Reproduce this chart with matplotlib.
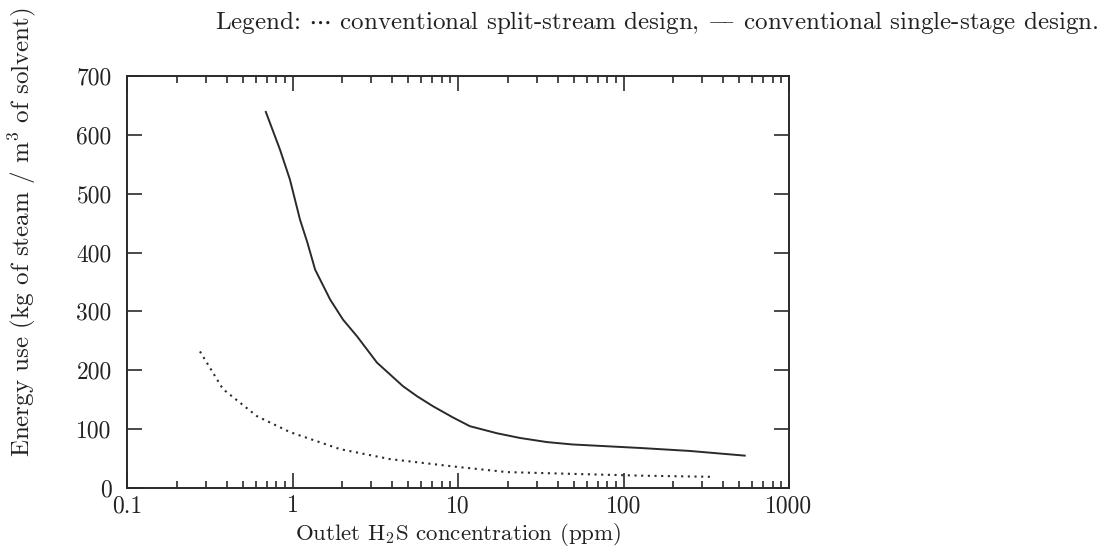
import matplotlib
matplotlib.use("Agg")
import matplotlib.pyplot as plt
from matplotlib.ticker import LogLocator, FixedLocator, NullFormatter

plt.rcParams['font.family'] = ['cmr10', 'DejaVu Serif']
plt.rcParams['mathtext.fontset'] = 'cm'
plt.rcParams['axes.formatter.use_mathtext'] = True

# Data
single_x = [0.69, 0.84, 0.965, 1.11, 1.23, 1.37, 1.69, 2.02, 2.45, 3.24, 4.65, 5.65, 7.05, 9.3, 11.8, 17.2, 23.7, 34.5, 49, 126, 250, 540]
single_y = [639, 575, 524, 456, 417, 371, 320, 286, 258, 213, 173, 156, 139, 120, 105, 93, 85, 78, 74, 68, 63, 55]

split_x = [0.276, 0.38, 0.61, 0.965, 1.94, 3.9, 9.8, 19.8, 49, 126, 340]
split_y = [232, 168, 122, 95, 66, 49, 36, 27, 24, 21, 19]

x_ticks = [0.1, 1, 10, 100, 1000]
x_tick_labels = ["0.1", "1", "10", "100", "1000"]
y_ticks = [0, 100, 200, 300, 400, 500, 600, 700]

fig = plt.figure(figsize=(11.04, 5.5), dpi=100)
ax = fig.add_axes([127/1104, 62/550, 662/1104, 412/550])

col = '#2a2a2a'
ax.plot(single_x, single_y, color=col, lw=1.4, ls='-')
ax.plot(split_x, split_y, color=col, lw=1.5, ls=(0, (1, 2.2)))

ax.set_xscale('log')
ax.set_xlim(0.1, 1000)
ax.set_ylim(0, 700)
ax.xaxis.set_major_locator(FixedLocator(x_ticks))
ax.set_xticklabels(x_tick_labels)
ax.xaxis.set_minor_locator(LogLocator(base=10, subs=range(2, 10)))
ax.xaxis.set_minor_formatter(NullFormatter())
ax.set_yticks(y_ticks)
ax.set_yticklabels([str(v) for v in y_ticks])

ax.tick_params(which='both', direction='in', top=True, right=True, colors=col, labelcolor='#222222', labelsize=17, width=1.2)
ax.tick_params(which='major', length=11)
ax.tick_params(which='minor', length=5)
ax.tick_params(axis='y', pad=11)
ax.tick_params(axis='x', which='major', pad=5)
for s in ax.spines.values():
    s.set_color(col)
    s.set_linewidth(1.4)

fig.text(458/1104, 1 - 548/550, r"Outlet H$_2$S concentration (ppm)", ha='center', va='bottom', fontsize=16.5, color='#222222')
fig.text(22/1104, 1 - 232/550, r"Energy use (kg of steam / m$^3$ of solvent)", ha='center', va='center', rotation=90, fontsize=18, color='#222222')
fig.text(215/1104, 1 - 22/550, r"Legend: $\cdots$ conventional split-stream design, $\boldsymbol{-}\!\!\!\boldsymbol{-}$ conventional single-stage design.",
         ha='left', va='center', fontsize=18, color='#222222')

fig.savefig("out.png", dpi=100, facecolor='white')
